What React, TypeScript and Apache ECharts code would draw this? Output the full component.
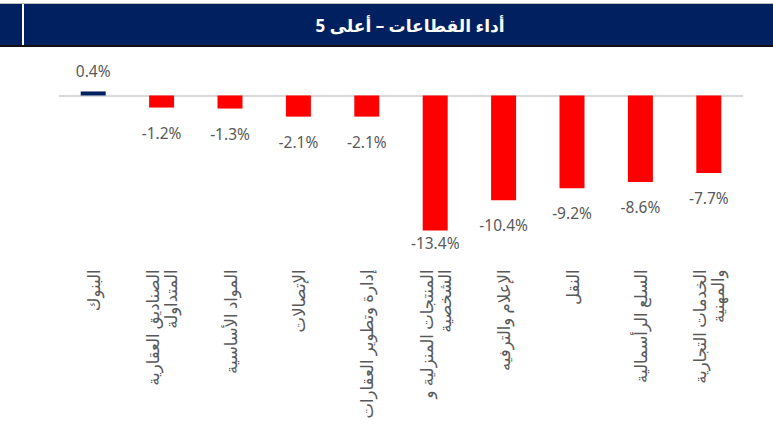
import React, { useEffect, useRef } from "react";
import * as echarts from "echarts";

const titleText = "أداء القطاعات – أعلى 5";
const categories = [
  "البنوك",
  "الصناديق العقارية\nالمتداولة",
  "المواد الأساسية",
  "الإتصالات",
  "إدارة وتطوير العقارات",
  "المنتجات المنزلية و\nالشخصية",
  "الإعلام والترفيه",
  "النقل",
  "السلع الرأسمالية",
  "الخدمات التجارية\nوالمهنية",
];
const values = [0.4, -1.2, -1.3, -2.1, -2.1, -13.4, -10.4, -9.2, -8.6, -7.7];

const NAVY = "#002060";
const RED = "#FF0000";
const TXT = "#595959";

export default function App() {
  const ref = useRef<HTMLDivElement>(null);
  useEffect(() => {
    document.body.style.margin = "0";
    if (!ref.current) return;
    const chart = echarts.init(ref.current, undefined, { renderer: "svg" });
    const minVal = Math.min(...values);
    const data = values.map((v) => ({
      value: v,
      itemStyle: { color: v >= 0 ? NAVY : RED },
      label: {
        position: v >= 0 ? "top" : "bottom",
        distance: v >= 0 ? 12 : v === minVal ? 5 : 17,
      },
    }));
    chart.setOption({
      animation: false,
      backgroundColor: "#ffffff",
      graphic: [
        { type: "rect", shape: { x: 0, y: 3, width: 773, height: 1 }, style: { fill: "#bfbfbf" } },
        { type: "rect", shape: { x: 0, y: 4, width: 773, height: 41 }, style: { fill: NAVY } },
        { type: "rect", shape: { x: 0, y: 45, width: 773, height: 2 }, style: { fill: "#111111" } },
        { type: "rect", shape: { x: 22, y: 4, width: 2, height: 41 }, style: { fill: "#ffffff" } },
        {
          type: "text",
          x: 410,
          y: 25,
          style: {
            text: titleText,
            fill: "#ffffff",
            font: "bold 17px 'Noto Sans', 'DejaVu Sans', sans-serif",
            textAlign: "center",
            textVerticalAlign: "middle",
          },
        },
      ],
      grid: { left: 59, right: 30, top: 85.4, bottom: 190.5, containLabel: false },
      xAxis: {
        type: "category",
        data: categories,
        axisLine: { show: false, onZero: false },
        axisTick: { show: false },
        splitLine: { show: false },
        axisLabel: {
          rotate: 90,
          margin: 33,
          color: TXT,
          fontSize: 16.5,
          lineHeight: 18,
          fontFamily: "'Noto Sans', 'DejaVu Sans', sans-serif",
          interval: 0,
        },
      },
      yAxis: {
        type: "value",
        min: -14,
        max: 1,
        show: false,
        splitLine: { show: false },
      },
      series: [
        {
          type: "bar",
          data,
          barWidth: 25,
          label: {
            show: true,
            color: TXT,
            fontSize: 15.5,
            fontFamily: "'Noto Sans', 'Open Sans', sans-serif",
            formatter: (p: any) => `${Number(p.value).toFixed(1)}%`,
          },
          markLine: {
            silent: true,
            symbol: "none",
            label: { show: false },
            lineStyle: { color: "#d9d9d9", width: 2, type: "solid" },
            data: [{ yAxis: 0 }],
            z: 1,
          },
        },
      ],
    });
    return () => chart.dispose();
  }, []);
  return <div ref={ref} style={{ width: 773, height: 427 }} />;
}
